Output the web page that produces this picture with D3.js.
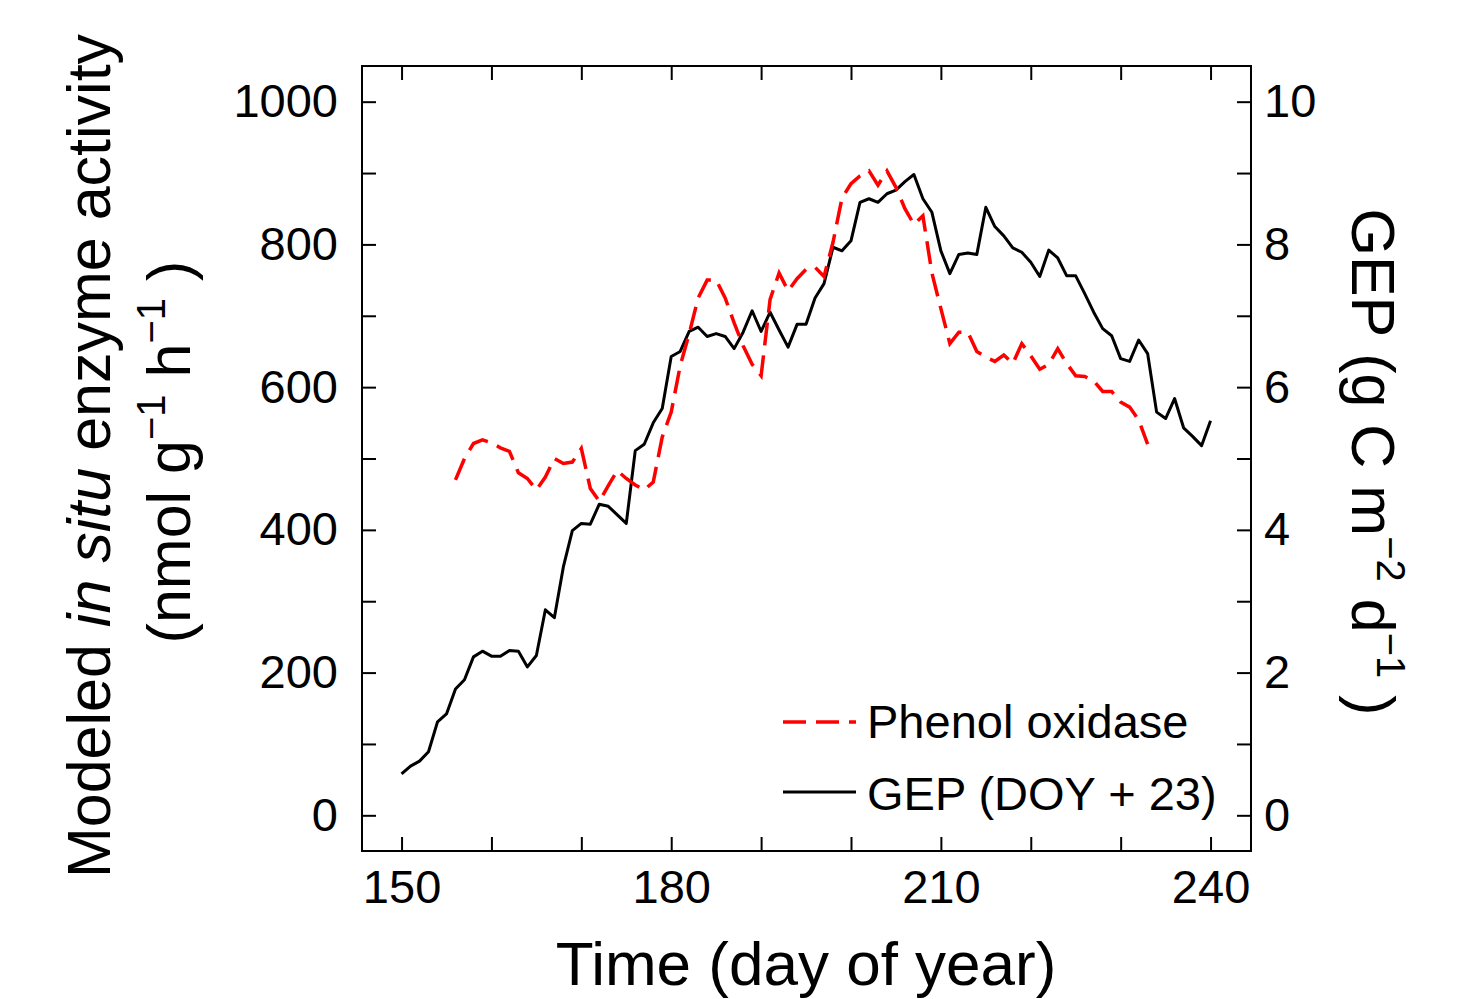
<!DOCTYPE html>
<html>
<head>
<meta charset="utf-8">
<script src="https://cdn.jsdelivr.net/npm/d3@7/dist/d3.min.js"></script>
<style>
  body { margin: 0; background: #fff; }
  svg { font-family: "Liberation Sans", Arial, sans-serif; }
  .tick text { font-size: 47px; fill: #000; }
</style>
</head>
<body>
<svg id="chart" width="1477" height="999"></svg>
<script>
// --- DATA ---
const xTickLabels = [150, 180, 210, 240];
const yTickLabels = [0, 200, 400, 600, 800, 1000];
const y2TickLabels = [0, 2, 4, 6, 8, 10];

// phenol oxidase, day 156..233 (nmol g-1 h-1)
const phenolStart = 156;
const phenolValues = [
  470, 500, 521, 526, 522, 515, 510, 480, 472, 456,
  474, 500, 493, 495, 514, 458, 440, 462, 483, 472,
  463, 456, 467, 530, 565, 630, 675, 725, 750, 750,
  725, 690, 658, 632, 616, 723, 760, 735, 752, 765,
  768, 755, 803, 865, 885, 896, 903, 883, 903, 880,
  850, 828, 840, 760, 710, 661, 677, 677, 650, 642,
  636, 645, 633, 661, 644, 625, 632, 654, 633, 616,
  615, 609, 594, 594, 579, 572, 554, 520
];

// GEP shifted by 23 days, day 150..240 (g C m-2 d-1)
const gepStart = 150;
const gepValues = [
  0.58, 0.69, 0.76, 0.89, 1.31, 1.42, 1.77, 1.90, 2.22, 2.30,
  2.23, 2.23, 2.31, 2.30, 2.08, 2.24, 2.88, 2.77, 3.48, 3.99,
  4.09, 4.08, 4.36, 4.33, 4.21, 4.09, 5.11, 5.20, 5.50, 5.70,
  6.43, 6.50, 6.78, 6.84, 6.71, 6.75, 6.71, 6.54, 6.77, 7.07,
  6.78, 7.05, 6.80, 6.56, 6.88, 6.88, 7.25, 7.45, 7.96, 7.91,
  8.05, 8.59, 8.64, 8.59, 8.71, 8.76, 8.88, 8.98, 8.64, 8.45,
  7.91, 7.59, 7.86, 7.88, 7.86, 8.52, 8.25, 8.12, 7.95, 7.89,
  7.75, 7.55, 7.92, 7.81, 7.56, 7.56, 7.31, 7.05, 6.82, 6.72,
  6.40, 6.36, 6.66, 6.47, 5.65, 5.56, 5.84, 5.43, 5.31, 5.18,
  5.53
];

const legendItems = [
  { label: "Phenol oxidase", color: "#ff0000", dash: "23,10", width: 3.5 },
  { label: "GEP (DOY + 23)", color: "#000", dash: null, width: 3 }
];

// --- LAYOUT ---
const M = { left: 362, right: 1251, top: 66, bottom: 851 };
const TICK = 14;

const svg = d3.select("#chart");

const x = d3.scaleLinear().domain([145.6, 244.5]).range([M.left, M.right]);
const y = d3.scaleLinear().domain([-50, 1050]).range([M.bottom, M.top]);
const y2 = d3.scaleLinear().domain([-0.5, 10.5]).range([M.bottom, M.top]);

const phenol = phenolValues.map((v, i) => ({ day: phenolStart + i, v }));
const gep = gepValues.map((v, i) => ({ day: gepStart + i, v }));

// --- AXES ---
const xTicks = d3.range(150, 241, 10);
const yTicks = d3.range(0, 1001, 100);
const y2Ticks = d3.range(0, 11, 1);

function styleAxis(g) {
  g.select(".domain").remove();
  g.selectAll(".tick line").attr("stroke", "#000").attr("stroke-width", 2);
}

svg.append("g")
  .attr("transform", `translate(0,${M.bottom})`)
  .call(d3.axisBottom(x).tickValues(xTicks).tickSizeInner(-TICK).tickSizeOuter(0).tickPadding(19)
    .tickFormat(d => xTickLabels.includes(d) ? d : ""))
  .call(styleAxis);

svg.append("g")
  .attr("transform", `translate(0,${M.top})`)
  .call(d3.axisTop(x).tickValues(xTicks).tickSizeInner(-TICK).tickSizeOuter(0).tickFormat(""))
  .call(styleAxis);

svg.append("g")
  .attr("transform", `translate(${M.left},0)`)
  .call(d3.axisLeft(y).tickValues(yTicks).tickSizeInner(-TICK).tickSizeOuter(0).tickPadding(24)
    .tickFormat(d => yTickLabels.includes(d) ? d : ""))
  .call(styleAxis);

svg.append("g")
  .attr("transform", `translate(${M.right},0)`)
  .call(d3.axisRight(y2).tickValues(y2Ticks).tickSizeInner(-TICK).tickSizeOuter(0).tickPadding(13)
    .tickFormat(d => y2TickLabels.includes(d) ? d : ""))
  .call(styleAxis);

svg.selectAll(".tick text").style("font-family", "'Liberation Sans', Arial, sans-serif");

// frame
svg.append("rect")
  .attr("x", M.left).attr("y", M.top)
  .attr("width", M.right - M.left).attr("height", M.bottom - M.top)
  .attr("fill", "none").attr("stroke", "#000").attr("stroke-width", 2);

// --- LINES ---
svg.append("path")
  .datum(gep)
  .attr("fill", "none").attr("stroke", "#000").attr("stroke-width", 3)
  .attr("stroke-linejoin", "round")
  .attr("d", d3.line().x(d => x(d.day)).y(d => y2(d.v)));

svg.append("path")
  .datum(phenol)
  .attr("fill", "none").attr("stroke", "#ff0000").attr("stroke-width", 3.5)
  .attr("stroke-dasharray", "23,10")
  .attr("d", d3.line().x(d => x(d.day)).y(d => y(d.v)));

// --- LEGEND ---
const leg = svg.append("g");
legendItems.forEach((it, i) => {
  const ly = 722 + i * 70;
  leg.append("line")
    .attr("x1", 783).attr("x2", 856).attr("y1", ly).attr("y2", ly)
    .attr("stroke", it.color).attr("stroke-width", it.width)
    .attr("stroke-dasharray", it.dash);
  leg.append("text")
    .attr("x", 867).attr("y", ly + 16 + i * 2)
    .attr("font-size", 47)
    .text(it.label);
});

// --- TITLES ---
const TITLE = 61, SUP = 40, RISE = 25;

svg.append("text")
  .attr("x", 806).attr("y", 985)
  .attr("text-anchor", "middle").attr("font-size", 62)
  .text("Time (day of year)");

function addSup(t, s) {
  t.append("tspan").attr("font-size", SUP).attr("dy", -RISE).text(s);
}

const t1 = svg.append("text")
  .attr("transform", "translate(110,456) rotate(-90)")
  .attr("text-anchor", "middle").attr("font-size", TITLE);
t1.append("tspan").text("Modeled ");
t1.append("tspan").attr("font-style", "italic").text("in situ");
t1.append("tspan").text(" enzyme activity");

const t2 = svg.append("text")
  .attr("transform", "translate(190,452) rotate(-90)")
  .attr("text-anchor", "middle").attr("font-size", TITLE);
t2.append("tspan").text("(nmol g");
addSup(t2, "\u22121");
t2.append("tspan").attr("dy", RISE).text(" h");
addSup(t2, "\u22121");
t2.append("tspan").attr("dy", RISE).text(" )");

const t3 = svg.append("text")
  .attr("transform", "translate(1352,462) rotate(90)")
  .attr("text-anchor", "middle").attr("font-size", TITLE);
t3.append("tspan").text("GEP (g C m");
addSup(t3, "\u22122");
t3.append("tspan").attr("dy", RISE).text(" d");
addSup(t3, "\u22121");
t3.append("tspan").attr("dy", RISE).text(" )");
</script>
</body>
</html>
